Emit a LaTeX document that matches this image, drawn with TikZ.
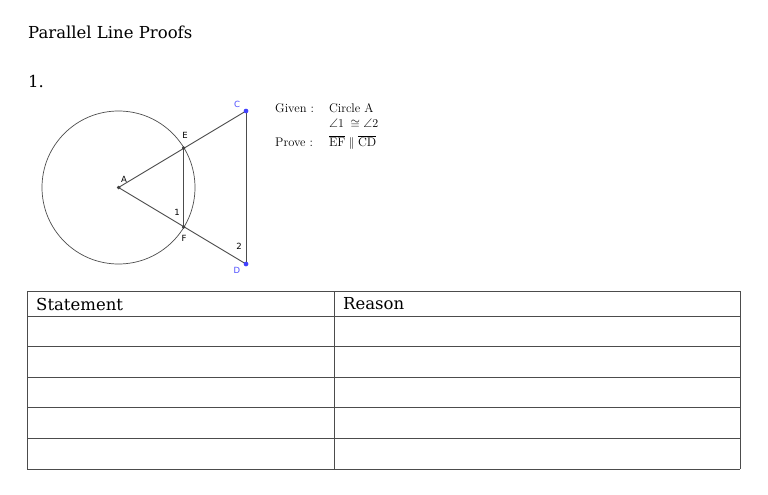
\documentclass[tikz,border=0pt]{standalone}
\usepackage{fontspec}
\usepackage{amssymb}
\newfontfamily\docfont{DejaVu Serif}
\newfontfamily\geofont{DejaVu Sans}
\begin{document}
\begin{tikzpicture}[x=1pt,y=-1pt,
  geo/.style={draw=black!70,line width=0.9pt},
  pt/.style={circle,fill=black!75,inner sep=0pt,minimum size=3.5pt},
  bpt/.style={circle,fill=blue!75,inner sep=0pt,minimum size=4.5pt},
  lab/.style={font=\geofont\fontsize{8.5}{9}\selectfont,inner sep=0pt},
  blab/.style={lab,text=blue!70},
  grid/.style={draw=black!70,line width=0.7pt},
  hdr/.style={font=\docfont\fontsize{16.5}{18}\selectfont,anchor=west,inner sep=0pt},
  given/.style={font=\fontsize{12.5}{15}\selectfont,anchor=base west,inner sep=0pt}]
\useasboundingbox[fill=white] (0,0) rectangle (768,495);
\node[hdr] (title) at (28,32) {Parallel Line Proofs};
\node[hdr] (num) at (28,81) {1.};
% geometry
\coordinate (Ac) at (118.5,187.5);
\draw[geo,line width=0.7pt] (Ac) circle (76.5);
\node[pt] (A) at (118.5,187.5) {};
\node[pt] (E) at (183.5,148) {};
\node[pt] (F) at (183.5,227) {};
\node[bpt] (C) at (246,111) {};
\node[bpt] (D) at (246,264) {};
\draw[geo] (A.center) -- (C.center);
\draw[geo] (A.center) -- (D.center);
\draw[geo] (E.center) -- (F.center);
\draw[geo] (C.center) -- (D.center);
\node[pt] at (A) {};
\node[pt] at (E) {};
\node[pt] at (F) {};
\node[bpt] at (C) {};
\node[bpt] at (D) {};
\node[lab] (la) at (124,179) {A};
\node[lab] (le) at (185,135) {E};
\node[lab] (lf) at (184,238) {F};
\node[lab] (l1) at (177,212) {1};
\node[lab] (l2) at (239,246) {2};
\node[blab] (lc) at (237,104) {C};
\node[blab] (ld) at (237,270) {D};
% given / prove
\node[given] (gp) at (275,112) {\begin{tabular}[t]{@{}l@{\hspace{15pt}}l@{}}
Given : & Circle A\\[0.5pt]
        & $\angle 1\;\cong\angle 2$\\[3pt]
Prove : & $\overline{\mathrm{EF}}\parallel\overline{\mathrm{CD}}$
\end{tabular}};
% table
\foreach \y in {291,316,346,377,407,438,469} \draw[grid] (27,\y) -- (740,\y);
\draw[grid] (27,291) -- (27,469);
\draw[grid] (334,291) -- (334,469);
\draw[grid] (740,291) -- (740,469);
\node[hdr] (st) at (36,304) {Statement};
\node[hdr] (rs) at (343,304) {Reason};
\end{tikzpicture}
\end{document}
